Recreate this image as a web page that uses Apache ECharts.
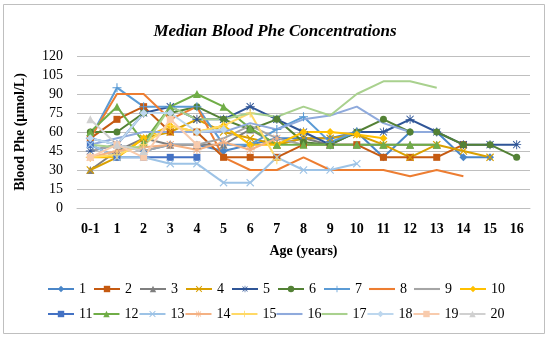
<!DOCTYPE html>
<html><head><meta charset="utf-8">
<script src="https://cdn.jsdelivr.net/npm/echarts@6/dist/echarts.min.js"></script>
<style>html,body{margin:0;padding:0;background:#fff}#c{width:550px;height:338px}</style>
</head><body><div id="c"></div>
<script>
var categories = ['0-1','1','2','3','4','5','6','7','8','9','10','11','12','13','14','15','16'];
var yTicks = [0, 15, 30, 45, 60, 75, 90, 105, 120];
var seriesNames = ['1','2','3','4','5','6','7','8','9','10','11','12','13','14','15','16','17','18','19','20'];
var s1  = [55, 50, 45, 50, 50, 45, 50, 55, 55, 55, 60, 40, 60, 60, 40, 40, null];
var s2  = [55, 70, 80, 60, 60, 40, 40, 40, 50, 50, 50, 40, 40, 40, 50, null, null];
var s3  = [30, 45, 55, 50, 50, 50, 62, 50, 55, 50, 50, 50, 50, 50, null, null, null];
var s4  = [30, 40, 55, 60, 70, 60, 55, 50, 55, 55, 58, 50, 40, 50, 45, 40, null];
var s5  = [45, 50, 75, 80, 70, 70, 80, 70, 60, 50, 60, 60, 70, 60, 50, 50, 50];
var s6  = [60, 60, 75, 75, 80, 70, 62, 70, 52, 50, 60, 70, 60, 60, 50, 50, 40];
var s7  = [55, 95, 80, 80, 80, 50, 50, 62, 72, 52, 60, null, null, null, null, null, null];
var s8  = [55, 90, 90, 70, 80, 40, 30, 30, 40, 30, 30, 30, 25, 30, 25, null, null];
var s9  = [45, 50, 45, 50, 50, 55, 65, 55, 50, 50, 50, null, null, null, null, null, null];
var s10 = [40, 40, 55, 65, 60, 65, 50, 50, 60, 60, 58, 55, null, null, null, null, null];
var s11 = [50, 40, 40, 40, 40, null, null, null, null, null, null, null, null, null, null, null, null];
var s12 = [60, 80, 52, 80, 90, 80, 63, 50, 50, 50, 50, 50, 50, 50, null, null, null];
var s13 = [50, 40, 40, 35, 35, 20, 20, 40, 30, 30, 35, null, null, null, null, null, null];
var s14 = [40, 45, 48, 50, 46, 52, 46, 55, null, null, null, null, null, null, null, null, null];
var s15 = [40, 42, 50, 65, 60, 65, 75, 38, null, null, null, null, null, null, null, null, null];
var s16 = [50, 55, 60, 60, 60, 60, 67, 62, 70, 73, 80, 67, 60, 60, null, null, null];
var s17 = [50, 48, 48, 80, 70, 70, 75, 72, 80, 73, 90, 100, 100, 95, null, null, null];
var s18 = [55, 50, 75, 75, 60, 62, null, null, null, null, null, null, null, null, null, null, null];
var s19 = [40, 50, 40, 70, 50, null, null, null, null, null, null, null, null, null, null, null, null];
var s20 = [70, 50, 45, null, null, null, null, null, null, null, null, null, null, null, null, null, null];

var allData = [s1,s2,s3,s4,s5,s6,s7,s8,s9,s10,s11,s12,s13,s14,s15,s16,s17,s18,s19,s20];
var colors = ['#4A86C8','#C55A11','#7F7F7F','#D9A000','#2F5597','#538135','#5B9BD5','#ED7D31','#A5A5A5','#FFC000',
              '#4472C4','#70AD47','#9DC3E6','#F4B183','#FFD966','#8FAADC','#A9D18E','#BDD7EE','#F8CBAD','#D0D0D0'];
var X = 'path://M1,0L5,4L9,0L10,1L6,5L10,9L9,10L5,6L1,10L0,9L4,5L0,1Z';
var PLUS = 'path://M4.4,0H5.6V4.4H10V5.6H5.6V10H4.4V5.6H0V4.4H4.4Z';
var STAR = 'path://M4.5,0H5.5V3.8L8.6,0.7L9.3,1.4L6.2,4.5H10V5.5H6.2L9.3,8.6L8.6,9.3L5.5,6.2V10H4.5V6.2L1.4,9.3L0.7,8.6L3.8,5.5H0V4.5H3.8L0.7,1.4L1.4,0.7L4.5,3.8Z';
var LINEICON = 'path://M0,4.6H10V5.4H0Z';
var symbols = ['diamond','rect','triangle',X,STAR,'circle',PLUS,'none','none','diamond',
               'rect','triangle',X,STAR,PLUS,'none','none','diamond','rect','triangle'];
var sizes = [8,7,8,8,9,7,9,0,0,8,7,8,8,9,9,0,0,8,7,8];

var series = allData.map(function(d, i){
  return {
    name: seriesNames[i], type: 'line', data: d, color: colors[i],
    symbol: symbols[i], symbolSize: sizes[i], showSymbol: symbols[i] !== 'none',
    lineStyle: {width: 2, color: colors[i]},
    itemStyle: {color: colors[i], borderWidth: 0},
    connectNulls: false, animation: false
  };
});
function legendData(from, to){
  return seriesNames.slice(from, to).map(function(n, k){
    var i = from + k;
    return symbols[i] === 'none' ? {name: n, icon: LINEICON} : {name: n};
  });
}

var serif = '"Liberation Serif", "DejaVu Serif", serif';
var chart = echarts.init(document.getElementById('c'), null, {renderer: 'canvas'});
chart.setOption({
  animation: false,
  backgroundColor: '#fff',
  title: {text: 'Median Blood Phe Concentrations', left: 'center', top: 18,
    textStyle: {fontFamily: serif, fontStyle: 'italic', fontWeight: 'bold', fontSize: 17, color: '#000'}},
  grid: {left: 77, right: 20, top: 56, bottom: 130},
  legend: [
    {data: legendData(0,10), left: 42, top: 277, itemWidth: 26, itemHeight: 8, itemGap: 7,
     textStyle: {fontFamily: serif, fontSize: 14, color: '#000'}},
    {data: legendData(10,20), left: 42, top: 302, itemWidth: 26, itemHeight: 8, itemGap: 0,
     textStyle: {fontFamily: serif, fontSize: 14, color: '#000'}}
  ],
  xAxis: {type: 'category', data: categories, boundaryGap: true,
    name: 'Age (years)', nameLocation: 'middle', nameGap: 36,
    nameTextStyle: {fontFamily: serif, fontWeight: 'bold', fontSize: 14, color: '#000'},
    axisLine: {lineStyle: {color: '#BFBFBF'}}, axisTick: {show: false},
    axisLabel: {fontFamily: serif, fontWeight: 'bold', fontSize: 14, color: '#000', margin: 14, interval: 0}},
  yAxis: {type: 'value', min: yTicks[0], max: yTicks[yTicks.length-1], interval: yTicks[1]-yTicks[0],
    name: 'Blood Phe (µmol/L)', nameLocation: 'middle', nameGap: 50,
    nameTextStyle: {fontFamily: serif, fontWeight: 'bold', fontSize: 14, color: '#000'},
    axisLine: {show: false}, axisTick: {show: false},
    splitLine: {lineStyle: {color: '#BFBFBF'}},
    axisLabel: {fontFamily: serif, fontSize: 14, color: '#000', margin: 14}},
  graphic: [{type: 'rect', shape: {x: 3.5, y: 4.5, width: 541, height: 329},
    style: {fill: 'none', stroke: '#BFBFBF', lineWidth: 1}, silent: true, z: -1}],
  series: series
});
</script></body></html>
